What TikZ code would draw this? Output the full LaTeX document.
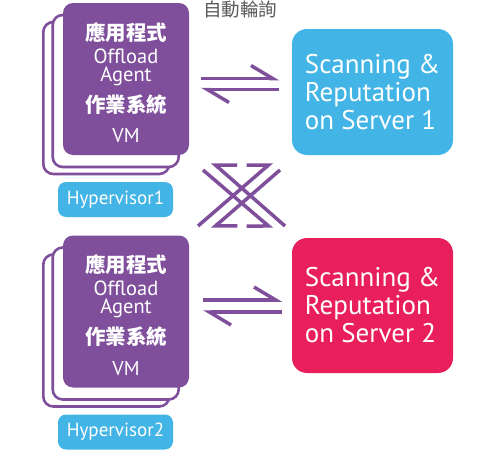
\documentclass[tikz,border=0pt]{standalone}
\usepackage{fontspec}
\setmainfont{PT Sans}
\newfontfamily\cjk{Noto Sans CJK TC}
\usetikzlibrary{shapes,arrows.meta}
\definecolor{vmpurple}{HTML}{7F4F9C}
\definecolor{srvblue}{HTML}{42B4E6}
\definecolor{srvred}{HTML}{E81F5B}
\definecolor{pollgray}{HTML}{595959}
\tikzstyle{vmback} = [rectangle, draw=vmpurple, line width=2.6pt, fill=white,
rounded corners=10pt, minimum width=126pt, minimum height=152pt, inner sep=0pt]
\tikzstyle{vmfront} = [rectangle, fill=vmpurple, rounded corners=10pt,
minimum width=126pt, minimum height=152pt, inner sep=0pt]
\tikzstyle{cjkline} = [text=white, anchor=base, inner sep=0pt,
font=\cjk\bfseries\fontsize{20.5}{20.5}\selectfont]
\tikzstyle{vmline} = [text=white, anchor=base, inner sep=0pt,
font=\fontsize{20}{20}\selectfont]
\tikzstyle{agentline} = [text=white, align=center, inner sep=0pt,
font=\fontsize{20.5}{18}\selectfont]
\tikzstyle{hyper} = [rectangle, fill=srvblue, rounded corners=8pt, text=white,
minimum width=115pt, minimum height=35pt, inner sep=0pt, font=\fontsize{19}{19}\selectfont]
\tikzstyle{server} = [rectangle, rounded corners=15pt, text=white, align=left,
minimum width=161pt, inner sep=0pt, font=\fontsize{27}{28}\selectfont]
\tikzstyle{harp} = [draw=vmpurple, line width=3.5pt,
-{Straight Barb[harpoon, length=21.7pt, width=26pt]}]
\tikzstyle{harpx} = [draw=vmpurple, line width=3.5pt,
-{Straight Barb[harpoon, length=16.4pt, width=28.5pt]}]
\tikzstyle{harpxs} = [draw=vmpurple, line width=3.5pt,
-{Straight Barb[harpoon, swap, length=16.4pt, width=28.5pt]}]

\begin{document}
\begin{tikzpicture}[x=1pt, y=-1pt]
\useasboundingbox (0,0) rectangle (499,455);
% VM stack 1
\node [vmback] (vm1c) at (106.3,98) {};
\node [vmback] (vm1b) at (115.7,91) {};
\node [vmfront] (vm1) at (126,79) {};
\node [cjkline] (app1) at ([yshift=-37.5pt]vm1.north) {應用程式};
\node [agentline] (agt1) at ([yshift=-64.5pt]vm1.north) {Offload\\Agent};
\node [cjkline] (os1) at ([yshift=-109.5pt]vm1.north) {作業系統};
\node [vmline] (vmt1) at ([yshift=-140pt]vm1.north) {VM};
\node [hyper] (hv1) at (115.5,199.5) {Hypervisor1};
% VM stack 2
\node [vmback] (vm2c) at (106.3,330.5) {};
\node [vmback] (vm2b) at (115.7,323.5) {};
\node [vmfront] (vm2) at (126,311.5) {};
\node [cjkline] (app2) at ([yshift=-37.5pt]vm2.north) {應用程式};
\node [agentline] (agt2) at ([yshift=-64.5pt]vm2.north) {Offload\\Agent};
\node [cjkline] (os2) at ([yshift=-109.5pt]vm2.north) {作業系統};
\node [vmline] (vmt2) at ([yshift=-140pt]vm2.north) {VM};
\node [hyper] (hv2) at (115.5,432) {Hypervisor2};
% servers
\node [server, fill=srvblue, minimum height=126pt] (srv1) at (372.5,92)
{Scanning \&\\Reputation\\on Server 1};
\node [server, fill=srvred, minimum height=135pt] (srv2) at (372.5,305.5)
{Scanning \&\\Reputation\\on Server 2};
\node [text=pollgray, font=\cjk\fontsize{18.5}{18.5}\selectfont] (poll) at (240,9) {自動輪詢};
% arrow ends
\coordinate (up1a) at (201,78.5);
\coordinate (up1b) at (279,78.5);
\coordinate (dn1a) at (279,89.5);
\coordinate (dn1b) at (201,89.5);
\coordinate (up2a) at (203,300);
\coordinate (up2b) at (282,300);
\coordinate (dn2a) at (282,312);
\coordinate (dn2b) at (203,312);
\coordinate (xa1) at (285,226);
\coordinate (xa2) at (212,162);
\coordinate (xb1) at (203,170);
\coordinate (xb2) at (272,229);
\coordinate (xc1) at (280,170);
\coordinate (xc2) at (212,229);
\coordinate (xd1) at (198,226);
\coordinate (xd2) at (272,162);
% draw arrows
\path [harp] (up1a) -- (up1b);
\path [harp] (dn1a) -- (dn1b);
\path [harp] (up2a) -- (up2b);
\path [harp] (dn2a) -- (dn2b);
\path [harpxs] (xa1) -- (xa2);
\path [harpxs] (xb1) -- (xb2);
\path [harpx] (xc1) -- (xc2);
\path [harpx] (xd1) -- (xd2);
\end{tikzpicture}
\end{document}
